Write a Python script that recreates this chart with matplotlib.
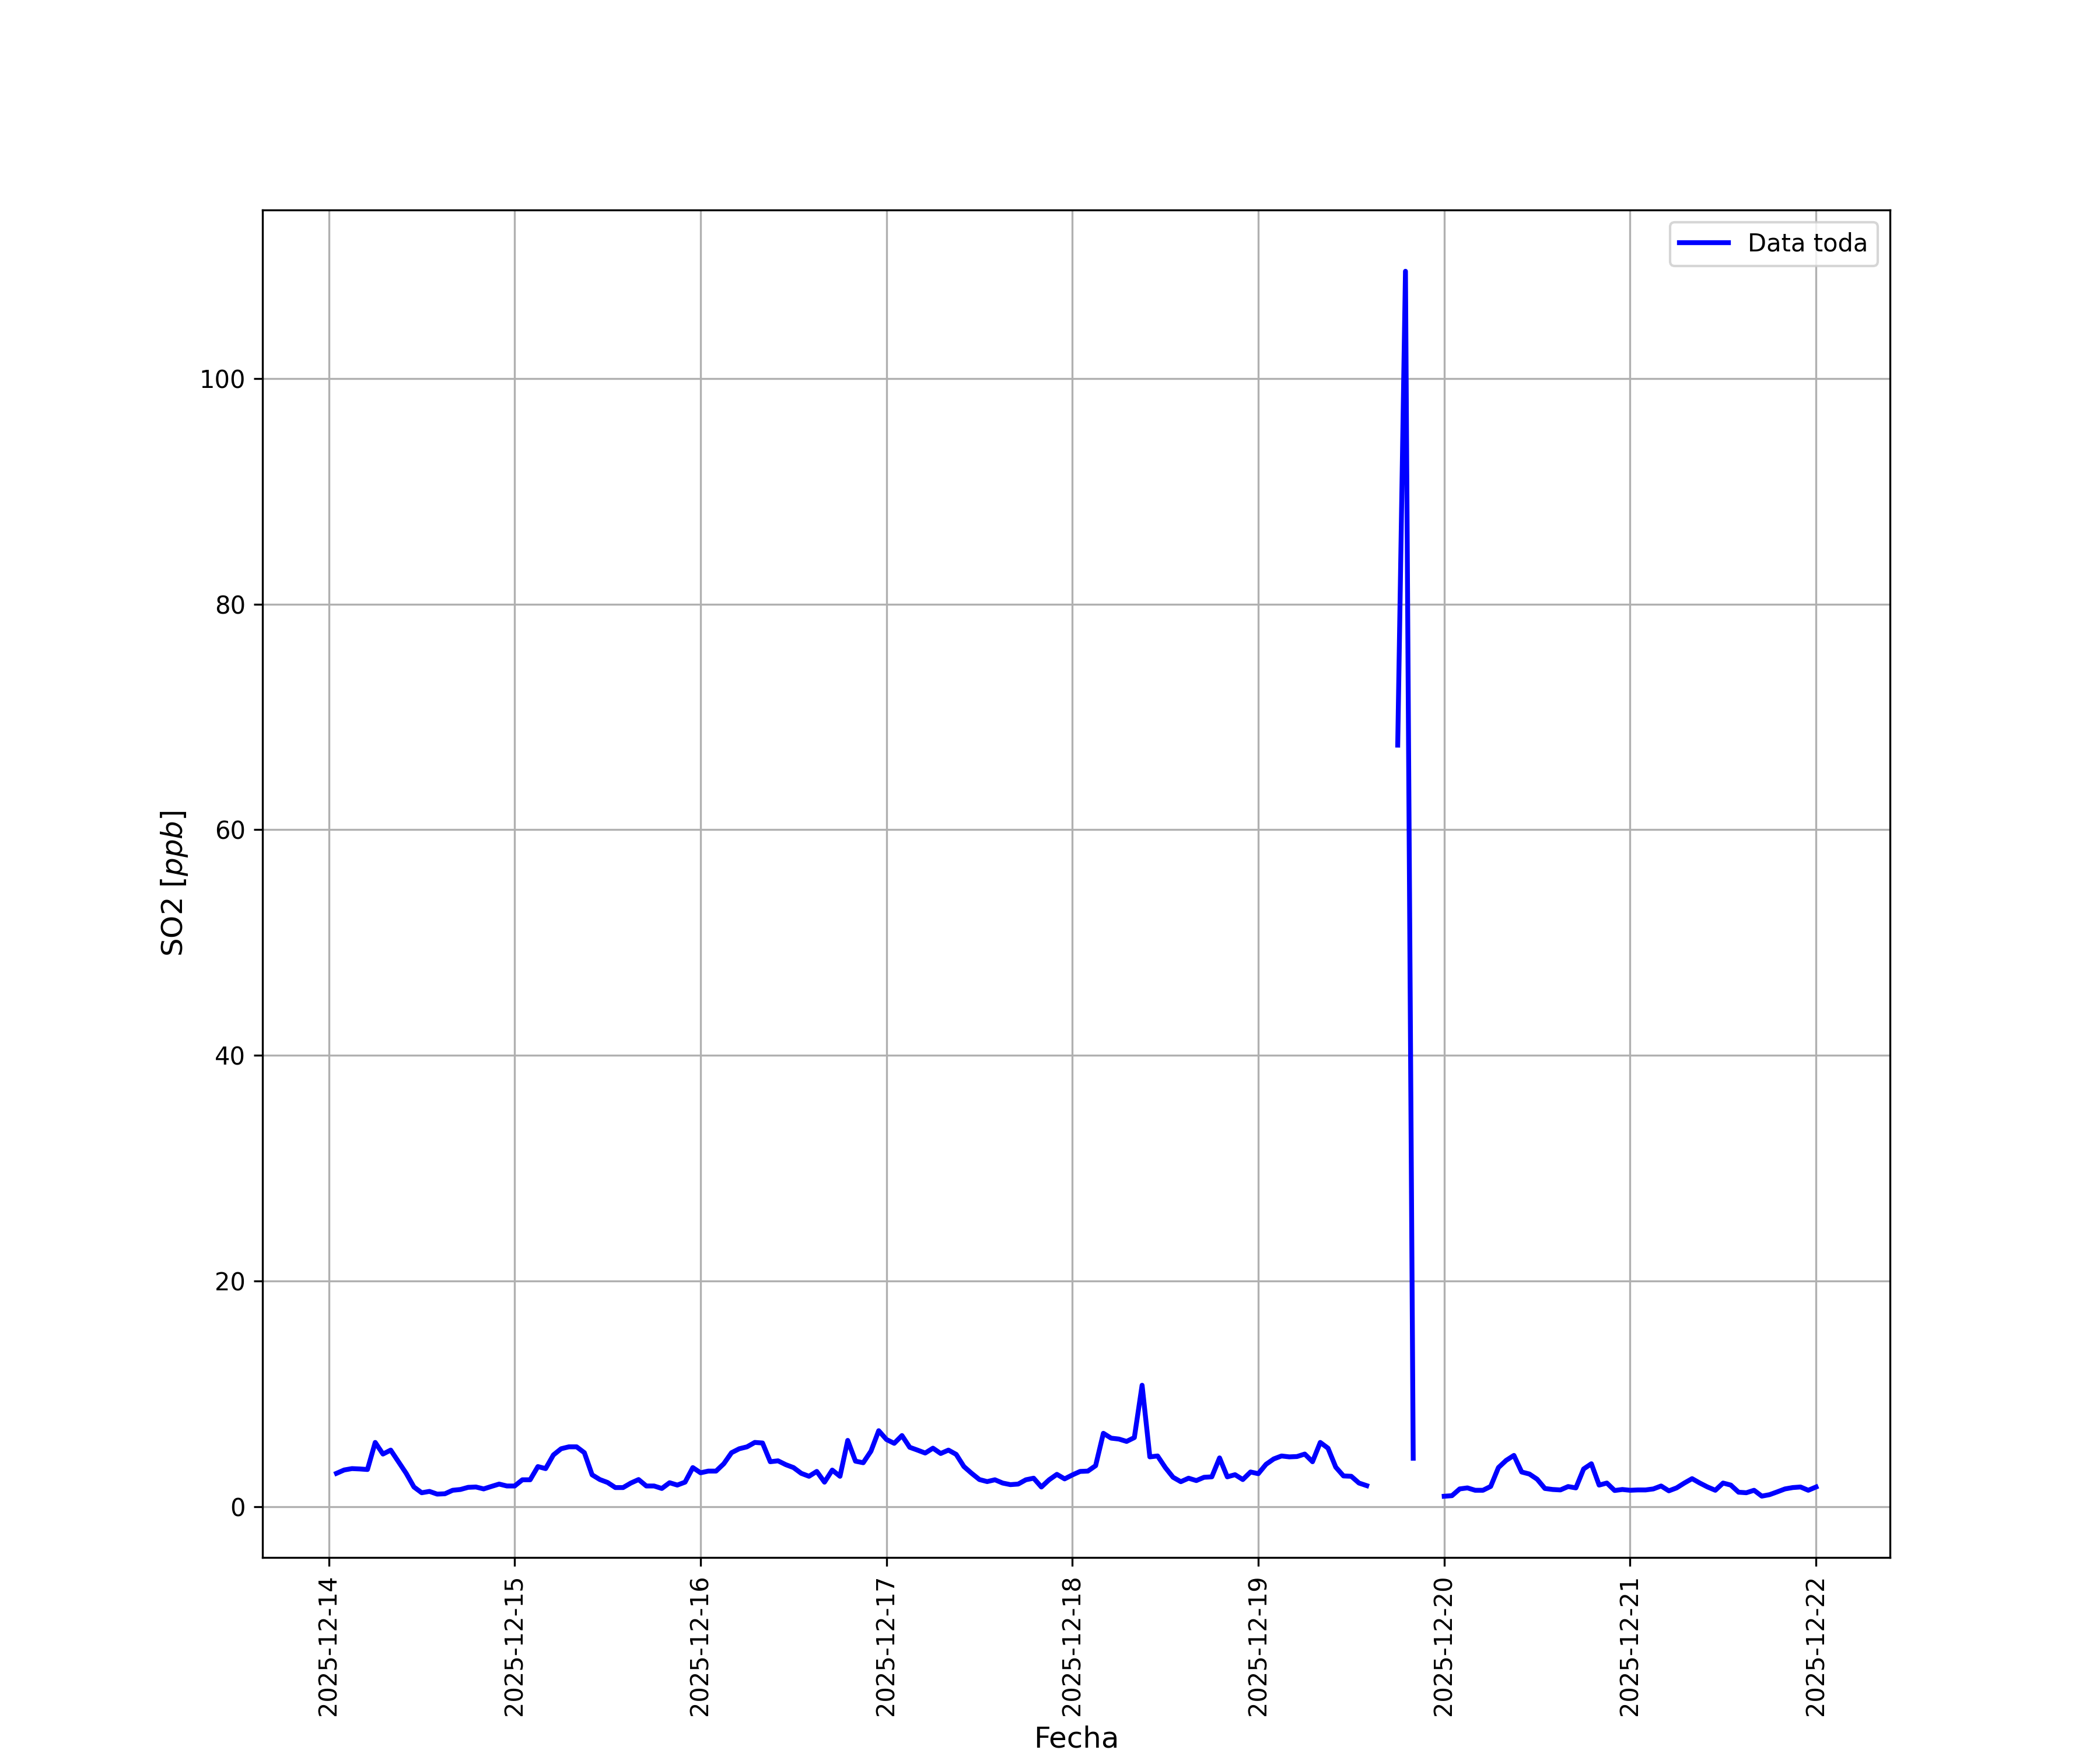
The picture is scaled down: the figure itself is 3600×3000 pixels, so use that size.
import numpy as np
import pandas as pd
import matplotlib
matplotlib.use("Agg")
import matplotlib.pyplot as plt
import matplotlib.dates as mdates

nan = np.nan

# hourly SO2 values (ppb), one list per day
day14 = [2.96, 3.26, 3.38, 3.35, 3.30, 5.70, 4.67, 5.02, 3.99, 2.96, 1.75, 1.24,
         1.36, 1.12, 1.15, 1.46, 1.53, 1.72, 1.75, 1.58, 1.80, 2.01, 1.84]  # from 01:00
day15 = [1.84, 2.39, 2.39, 3.56, 3.38, 4.59, 5.14, 5.31, 5.31, 4.79, 2.83, 2.41,
         2.15, 1.70, 1.70, 2.10, 2.41, 1.84, 1.84, 1.62, 2.13, 1.92, 2.18, 3.47]
day16 = [3.01, 3.16, 3.16, 3.81, 4.79, 5.14, 5.31, 5.70, 5.65, 3.99, 4.07, 3.73,
         3.47, 2.96, 2.70, 3.13, 2.18, 3.25, 2.70, 5.88, 4.04, 3.90, 4.93, 6.74]
day17 = [5.96, 5.62, 6.31, 5.27, 5.02, 4.76, 5.19, 4.72, 5.02, 4.64, 3.56, 2.96,
         2.41, 2.23, 2.39, 2.10, 1.96, 2.01, 2.39, 2.53, 1.75, 2.39, 2.87, 2.47]
day18 = [2.82, 3.13, 3.16, 3.64, 6.51, 6.08, 6.00, 5.79, 6.13, 10.77, 4.42, 4.50,
         3.47, 2.61, 2.22, 2.53, 2.32, 2.61, 2.65, 4.33, 2.65, 2.84, 2.41, 3.08]
day19 = [2.93, 3.76, 4.24, 4.50, 4.42, 4.45, 4.67, 3.99, 5.70, 5.19, 3.51, 2.73,
         2.70, 2.10, 1.87, nan, nan, nan, 67.5, 109.5, 4.3, nan, nan, nan]
day20 = [0.93, 0.98, 1.58, 1.67, 1.46, 1.46, 1.80, 3.47, 4.11, 4.55, 3.08, 2.90,
         2.44, 1.62, 1.53, 1.49, 1.79, 1.67, 3.35, 3.81, 1.92, 2.10, 1.44, 1.53]
day21 = [1.46, 1.49, 1.49, 1.58, 1.84, 1.41, 1.67, 2.10, 2.49, 2.10, 1.75, 1.46,
         2.10, 1.92, 1.29, 1.24, 1.46, 0.94, 1.07, 1.32, 1.58, 1.70, 1.75, 1.46]
day22 = [1.75]  # 00:00

so2 = day14 + day15 + day16 + day17 + day18 + day19 + day20 + day21 + day22
fechas = pd.date_range("2025-12-14 01:00", "2025-12-22 00:00", freq="h")

fig, ax = plt.subplots(figsize=(12, 10))
ax.plot(fechas, so2, color="blue", linewidth=2, label="Data toda")
ax.set_xlabel("Fecha", fontsize=12)
ax.set_ylabel("SO2 [$ppb$]", fontsize=12)
ax.xaxis.set_major_locator(mdates.DayLocator())
ax.xaxis.set_major_formatter(mdates.DateFormatter("%Y-%m-%d"))
plt.setp(ax.get_xticklabels(), rotation=90)
ax.grid(True)
ax.legend(loc="upper right")

fig.savefig("out.png", dpi=300)
